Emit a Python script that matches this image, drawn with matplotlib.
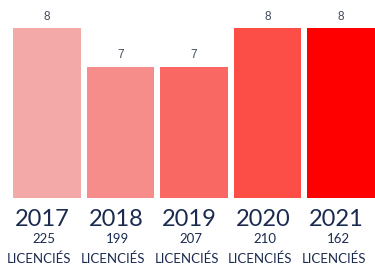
import matplotlib
matplotlib.use('Agg')
import matplotlib.pyplot as plt
import matplotlib.transforms as mtransforms

years = ['2017', '2018', '2019', '2020', '2021']
values = [8, 7, 7, 8, 8]
licencies = [225, 199, 207, 210, 162]
colors = ['#F4A9A9', '#F78D8A', '#F96863', '#FD4D47', '#FE0000']


def draw():
    fig = plt.figure(figsize=(3.75, 2.69), dpi=100)
    ax = fig.add_axes([13 / 375, 1 - 198 / 269, 362 / 375, 198 / 269])

    x = range(len(years))
    bars = ax.bar(x, values, width=0.92, color=colors)
    ax.bar_label(bars, labels=[str(v) for v in values], padding=4,
                 fontsize=8.5, color='#414a5c', family='Liberation Sans')

    ax.set_xlim(-0.46, len(years) - 0.54)
    ax.set_ylim(3.64, 8.72)
    ax.axis('off')

    # labels under the bars
    trans = mtransforms.blended_transform_factory(ax.transData, fig.transFigure)
    for i, (year, n) in enumerate(zip(years, licencies)):
        ax.text(i - 0.06, 1 - 220 / 269, year, transform=trans, ha='center', va='center',
                fontsize=17, color='#1b2b50', family='Lato')
        ax.text(i - 0.04, 1 - 239 / 269, str(n), transform=trans, ha='center', va='center',
                fontsize=9.5, color='#1b2b50', family='Lato')
        ax.text(i - 0.1, 1 - 259 / 269, 'LICENCIÉS', transform=trans, ha='center', va='center',
                fontsize=9.5, color='#1b2b50', family='Lato')

    plt.savefig('out.png', dpi=100)


if __name__ == '__main__':
    draw()
